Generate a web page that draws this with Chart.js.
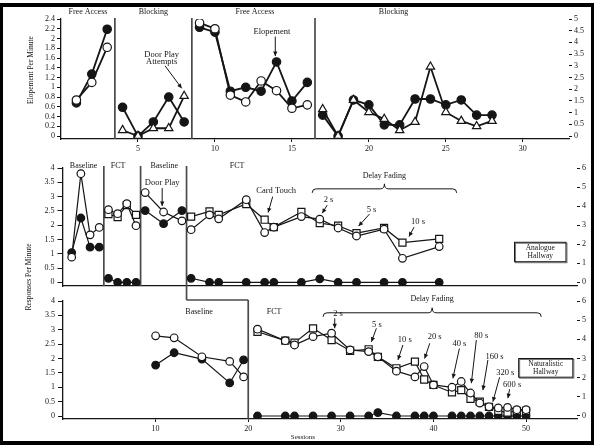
<!DOCTYPE html>
<html>
<head>
<meta charset="utf-8">
<script src="https://cdn.jsdelivr.net/npm/chart.js@4.4.1/dist/chart.umd.min.js"></script>
<style>
  html, body { margin: 0; padding: 0; background: #fff; }
  #wrap { position: relative; width: 594px; height: 447px; overflow: hidden; }
  #frame { position: absolute; left: 0; top: 3px; width: 588px; height: 434px;
           border-style: solid; border-color: #000; border-width: 4px 3px 4px 3px; }
  canvas { position: absolute; left: 0; }
  #c1 { top: 0; } #c2 { top: 150px; } #c3 { top: 290px; }
</style>
</head>
<body>
<div id="wrap">
  <div id="frame"></div>
  <canvas id="c1" width="594" height="160"></canvas>
  <canvas id="c2" width="594" height="160"></canvas>
  <canvas id="c3" width="594" height="157"></canvas>
</div>
<script>
// ── top panel: elopement ──
const P1_SESSIONS  = [1, 2, 3, 4, 5, 6, 7, 8, 9, 10, 11, 12, 13, 14, 15, 16, 17, 18, 19, 20, 21, 22, 23, 24, 25, 26, 27, 28];
const P1_ELOPE     = [0.68, 1.27, 2.19, 0.59, 0, 0.29, 0.8, 0.29, 2.23, 2.13, 0.92, 1.0, 0.92, 1.52, 0.72, 1.1,
                      0.43, 0, 0.74, 0.64, 0.23, 0.23, 0.76, 0.76, 0.64, 0.74, 0.43, 0.43];
const P1_DOOR_PLAY = [0.74, 1.1, 1.82, null, null, null, null, null, 2.32, 2.2, 0.84, 0.7, 1.13, 0.93, 0.57, 0.64,
                      null, null, null, null, null, null, null, null, null, null, null, null];
const P1_ATTEMPTS  = [null, null, null, 0.12, 0, 0.16, 0.16, 0.82, null, null, null, null, null, null, null, null,
                      0.55, 0, 0.74, 0.49, 0.35, 0.12, 0.29, 1.42, 0.49, 0.31, 0.2, 0.31];
const P1_PHASES    = [3.5, 8.5, 16.5];
const P1_NAMES     = ['Free Access', 'Blocking', 'Free Access', 'Blocking'];
const P1_NAMES_AT  = [1.75, 6, 12.6, 21.6];
const P1_LEFT_TICKS  = [0, 0.2, 0.4, 0.6, 0.8, 1, 1.2, 1.4, 1.6, 1.8, 2, 2.2, 2.4];
const P1_RIGHT_TICKS = [0, 0.5, 1, 1.5, 2, 2.5, 3, 3.5, 4, 4.5, 5];
const P1_X_TICKS     = [5, 10, 15, 20, 25, 30];

// ── middle panel: analogue hallway ──
const P2_SESSIONS = [1, 2, 3, 4, 5, 6, 7, 8, 9, 11, 13, 14, 16, 17, 20, 22, 23, 26, 28, 30, 32, 35, 37, 41];
const P2_FILLED   = [1.04, 2.25, 1.23, 1.23, 0.14, 0, 0, 0, 2.51, 2.05, 2.51, 0.14, 0, 0, 0, 0, 0, 0, 0.12, 0, 0, 0, 0, 0];
const P2_OPEN     = [0.88, 3.8, 1.66, 1.92, 2.54, 2.4, 2.75, 1.98, 3.14, 2.46, 2.15, 1.84, 2.36, 2.22, 2.89, 1.74, 1.93,
                     2.3, 2.21, 1.9, 1.62, 1.86, 0.84, 1.25];
const P2_SQUARE   = [null, null, null, null, 2.39, 2.28, 2.7, 2.36, null, null, null, 2.3, 2.48, 2.36, 2.74, 2.19, 1.93,
                     2.46, 2.07, 1.98, 1.72, 1.9, 1.39, 1.52];
const P2_PHASES   = [4.5, 8.5, 13.5];
const P2_NAMES    = ['Baseline', 'FCT', 'Baseline', 'FCT'];
const P2_NAMES_AT = [2.3, 6.05, 11.07, 19.0];

// ── bottom panel: naturalistic hallway ──
const P3_SESSIONS = [10, 12, 15, 18, 19.5, 21, 24, 25, 27, 29, 31, 33, 34, 36, 38, 39, 40, 42, 43, 44, 45, 46, 47, 48, 49, 50];
const P3_FILLED   = [1.77, 2.2, 1.98, 1.15, 1.95, 0, 0, 0, 0, 0, 0, 0, 0.12, 0, 0, 0, 0, 0, 0, 0, 0, 0, 0, 0, 0, 0];
const P3_OPEN     = [2.79, 2.72, 2.06, 1.9, 1.36, 3.02, 2.62, 2.47, 2.76, 2.88, 2.3, 2.24, 2.06, 1.56, 1.36, 1.72, 1.08,
                     1.0, 1.2, 0.8, 0.45, 0.32, 0.28, 0.3, 0.22, 0.22];
const P3_SQUARE   = [null, null, null, null, null, 2.93, 2.62, 2.55, 3.05, 2.64, 2.27, 2.32, 2.06, 1.66, 1.89, 1.27, 1.08,
                     0.82, 0.9, 0.6, 0.5, 0.32, 0.18, 0.12, 0.18, 0.18];
const P3_PHASES   = [20];
const P3_NAMES    = ['Baseline', 'FCT'];
const P3_NAMES_AT = [14.7, 22.8];

const RESP_LEFT_TICKS  = [0, 0.5, 1, 1.5, 2, 2.5, 3, 3.5, 4];
const RESP_RIGHT_TICKS = [0, 1, 2, 3, 4, 5, 6];
const P3_X_TICKS       = [10, 20, 30, 40, 50];

// annotations, in session / value units of each panel
const P1_NOTES = [
  { text: ['Door Play', 'Attempts'], at: [6.54, 1.59], arrow: [6.76, 1.44, 7.84, 0.98] },
  { text: ['Elopement'], at: [13.7, 2.13], arrow: [13.92, 2.04, 13.92, 1.64] }
];
const P2_NOTES = [
  { text: ['Door Play'], at: [10.85, 3.47], arrow: [10.85, 3.3, 10.85, 2.67] },
  { text: ['Card Touch'], at: [23.26, 3.2], arrow: [22.88, 3.0, 22.38, 2.44] },
  { text: ['2 s'], at: [28.95, 2.88], arrow: [28.81, 2.7, 28.27, 2.42] },
  { text: ['5 s'], at: [33.64, 2.53], arrow: [33.42, 2.39, 32.23, 1.97] },
  { text: ['10 s'], at: [38.7, 2.12], arrow: [38.26, 1.93, 37.71, 1.6] }
];
const P3_NOTES = [
  { text: ['2 s'], at: [29.7, 3.55], arrow: [29.34, 3.4, 29.34, 3.05] },
  { text: ['5 s'], at: [33.9, 3.17], arrow: [33.84, 3.05, 33.3, 2.58] },
  { text: ['10 s'], at: [36.9, 2.64], arrow: [36.7, 2.47, 36.17, 1.95] },
  { text: ['20 s'], at: [40.13, 2.76], arrow: [39.6, 2.53, 39.05, 2.0] },
  { text: ['40 s'], at: [42.8, 2.53], arrow: [42.8, 2.35, 42.1, 1.31] },
  { text: ['80 s'], at: [45.17, 2.79], arrow: [44.63, 2.64, 44.09, 1.14] },
  { text: ['160 s'], at: [46.6, 2.06], arrow: [45.88, 1.95, 45.34, 0.9] },
  { text: ['320 s'], at: [47.76, 1.49], arrow: [47.14, 1.35, 46.42, 0.5] },
  { text: ['600 s'], at: [48.5, 1.1], arrow: [48.22, 0.93, 48.04, 0.62] }
];

const FONT = '"Liberation Serif", "DejaVu Serif", serif';
const INK = '#151515';
Chart.defaults.font.family = FONT;
Chart.defaults.color = INK;

// break the line wherever a phase line sits between two sessions
function pts(sessions, values, breaks) {
  const out = [];
  sessions.forEach((s, i) => {
    const prev = sessions[i - 1];
    if (i > 0 && breaks.some(b => prev < b && b < s)) out.push({ x: (prev + s) / 2, y: null });
    out.push({ x: s, y: values[i] });
  });
  return out;
}

function series(data, kind, r, lw) {
  return {
    data, borderColor: INK, borderWidth: lw, tension: 0, spanGaps: false,
    pointRadius: r, pointHoverRadius: r, pointBorderColor: INK, pointBorderWidth: 1.2,
    pointBackgroundColor: kind === 'filled' ? INK : '#fff',
    pointStyle: kind === 'square' ? 'rect' : kind === 'triangle' ? 'triangle' : 'circle'
  };
}

function yScale(pos, min, max, ticks, width, tickLen, pad, border) {
  return {
    type: 'linear', position: pos, min, max,
    afterBuildTicks: ax => { ax.ticks = ticks.map(v => ({ value: v })); },
    afterFit: ax => { ax.width = width; },
    grid: { drawOnChartArea: false, tickLength: tickLen, color: INK, lineWidth: 1 },
    border: { display: border, color: INK, width: 1.3 },
    ticks: { autoSkip: false, padding: pad, font: { size: 8 }, callback: v => String(v) }
  };
}

function xScale(max, ticks, height, show) {
  return {
    type: 'linear', min: 0, max,
    afterBuildTicks: ax => { ax.ticks = ticks.map(v => ({ value: v })); },
    afterFit: ax => { ax.height = height; },
    grid: { drawOnChartArea: false, drawTicks: show, tickLength: 3, color: INK },
    border: { display: true, color: INK, width: 1.3 },
    ticks: { display: show, autoSkip: false, maxRotation: 0, padding: 2, font: { size: 8 }, callback: v => String(v) }
  };
}

function seg(ctx, x1, y1, x2, y2) {
  ctx.beginPath(); ctx.moveTo(x1, y1); ctx.lineTo(x2, y2); ctx.stroke();
}

function arrow(ctx, x1, y1, x2, y2) {
  seg(ctx, x1, y1, x2, y2);
  const a = Math.atan2(y2 - y1, x2 - x1), h = 5;
  ctx.beginPath();
  ctx.moveTo(x2, y2);
  ctx.lineTo(x2 - h * Math.cos(a - 0.45), y2 - h * Math.sin(a - 0.45));
  ctx.lineTo(x2 - h * Math.cos(a + 0.45), y2 - h * Math.sin(a + 0.45));
  ctx.closePath(); ctx.fill();
}

function brace(ctx, x1, x2, y, h) {
  const xc = (x1 + x2) / 2;
  ctx.beginPath();
  ctx.moveTo(x1, y + h);
  ctx.quadraticCurveTo(x1, y, x1 + h, y);
  ctx.lineTo(xc - h, y);
  ctx.quadraticCurveTo(xc, y, xc, y - h - 1);
  ctx.quadraticCurveTo(xc, y, xc + h, y);
  ctx.lineTo(x2 - h, y);
  ctx.quadraticCurveTo(x2, y, x2, y + h);
  ctx.stroke();
}

// phase lines, phase names, arrows, braces and boxes for one panel
function deco(o) {
  return {
    id: 'deco',
    beforeDatasetsDraw(chart) {
      const { ctx, chartArea: a, scales: { x } } = chart;
      ctx.save();
      ctx.strokeStyle = '#4a4a4a'; ctx.lineWidth = 1.7;
      o.phases.forEach((s, i) => {
        const px = x.getPixelForValue(s);
        seg(ctx, px, a.top + o.lineTop, px, a.bottom + ((o.lineDrop || [])[i] || 0));
      });
      if (o.step) o.step(chart);
      ctx.restore();
    },
    afterDraw(chart) {
      const { ctx, chartArea: a, scales: { x, y } } = chart;
      ctx.save();
      ctx.fillStyle = INK; ctx.strokeStyle = INK; ctx.lineWidth = 1;
      ctx.textAlign = 'center'; ctx.textBaseline = 'middle';
      ctx.font = '8px ' + FONT;
      o.names.forEach((n, i) => ctx.fillText(n, x.getPixelForValue(o.namesAt[i]), a.top + o.nameDy));
      ctx.font = '8.5px ' + FONT;
      o.notes.forEach(n => {
        const cx = x.getPixelForValue(n.at[0]), cy = y.getPixelForValue(n.at[1]);
        n.text.forEach((t, k) => ctx.fillText(t, cx, cy + (k - (n.text.length - 1) / 2) * 7.5));
        const [x1, y1, x2, y2] = n.arrow;
        arrow(ctx, x.getPixelForValue(x1), y.getPixelForValue(y1), x.getPixelForValue(x2), y.getPixelForValue(y2));
      });
      if (o.brace) {
        const b = o.brace, by = y.getPixelForValue(b.y);
        brace(ctx, x.getPixelForValue(b.from), x.getPixelForValue(b.to), by, 4);
        ctx.font = '8px ' + FONT;
        ctx.fillText('Delay Fading', x.getPixelForValue((b.from + b.to) / 2), y.getPixelForValue(b.labelY));
      }
      if (o.box) {
        const b = o.box;
        const bx1 = x.getPixelForValue(b.x1), bx2 = x.getPixelForValue(b.x2);
        const by1 = y.getPixelForValue(b.y1), by2 = y.getPixelForValue(b.y2);
        ctx.strokeStyle = '#777'; ctx.strokeRect(bx1 + 1, by1 + 1, bx2 - bx1, by2 - by1);
        ctx.strokeStyle = INK; ctx.strokeRect(bx1, by1, bx2 - bx1, by2 - by1);
        ctx.font = '7.5px ' + FONT;
        b.lines.forEach((t, k) => ctx.fillText(t, (bx1 + bx2) / 2, (by1 + by2) / 2 + (k - 0.5) * 7.5));
      }
      if (o.extra) o.extra(chart);
      ctx.restore();
    }
  };
}

function baseOptions(top, scales) {
  return {
    responsive: false, animation: false, devicePixelRatio: 1,
    layout: { padding: { top, left: 0, right: 0, bottom: 0 } },
    plugins: { legend: { display: false }, tooltip: { enabled: false } },
    scales
  };
}

function yTitle(ctx, text, x, y) {
  ctx.save();
  ctx.translate(x, y); ctx.rotate(-Math.PI / 2);
  ctx.font = '7.5px ' + FONT; ctx.fillStyle = INK;
  ctx.textAlign = 'center'; ctx.textBaseline = 'middle';
  ctx.fillText(text, 0, 0);
  ctx.restore();
}

// ── top panel ──
const chart1 = new Chart(document.getElementById('c1'), {
  type: 'line',
  data: { datasets: [
    series(pts(P1_SESSIONS, P1_DOOR_PLAY, P1_PHASES), 'open', 4.2, 1.8),
    series(pts(P1_SESSIONS, P1_ATTEMPTS, P1_PHASES), 'triangle', 4.8, 1.8),
    series(pts(P1_SESSIONS, P1_ELOPE, P1_PHASES), 'filled', 4.2, 1.8)
  ] },
  options: baseOptions(19, {
    x: xScale(33, P1_X_TICKS, 21, true),
    y: yScale('left', -0.06, 2.4, P1_LEFT_TICKS, 61, 4, 2, true),
    y2: yScale('right', -0.128, 5, P1_RIGHT_TICKS, 25, 3, 2, false)
  }),
  plugins: [deco({
    phases: P1_PHASES, lineTop: -1, names: P1_NAMES, namesAt: P1_NAMES_AT, nameDy: -7,
    notes: P1_NOTES,
    extra: chart => yTitle(chart.ctx, 'Elopement Per Minute', 31, 70)
  })]
});

// ── middle panel ──
const chart2 = new Chart(document.getElementById('c2'), {
  type: 'line',
  data: { datasets: [
    series(pts(P2_SESSIONS, P2_OPEN, P2_PHASES), 'open', 3.8, 1.2),
    series(pts(P2_SESSIONS, P2_SQUARE, P2_PHASES), 'square', 5, 1.2),
    series(pts(P2_SESSIONS, P2_FILLED, P2_PHASES), 'filled', 3.8, 1.2)
  ] },
  options: baseOptions(18, {
    x: xScale(56, P3_X_TICKS, 24, false),
    y: yScale('left', -0.13, 4, RESP_LEFT_TICKS, 62.5, 5, 3, true),
    y2: yScale('right', -0.194, 6, RESP_RIGHT_TICKS, 17, 3, 2, false)
  }),
  plugins: [deco({
    phases: P2_PHASES, lineTop: -2, lineDrop: [0, 0, 14],
    names: P2_NAMES, namesAt: P2_NAMES_AT, nameDy: -2,
    notes: P2_NOTES,
    brace: { from: 27.18, to: 42.9, y: 3.27, labelY: 3.72 },
    box: { x1: 49.2, x2: 54.8, y1: 1.4, y2: 0.72, lines: ['Analogue', 'Hallway'] },
    extra: chart => yTitle(chart.ctx, 'Responses Per Minute', 29, 127)
  })]
});

// ── bottom panel ──
const chart3 = new Chart(document.getElementById('c3'), {
  type: 'line',
  data: { datasets: [
    series(pts(P3_SESSIONS, P3_OPEN, P3_PHASES), 'open', 3.8, 1.2),
    series(pts(P3_SESSIONS, P3_SQUARE, P3_PHASES), 'square', 5, 1.2),
    series(pts(P3_SESSIONS, P3_FILLED, P3_PHASES), 'filled', 3.8, 1.2)
  ] },
  options: baseOptions(11, {
    x: xScale(55.5, P3_X_TICKS, 28, true),
    y: yScale('left', -0.104, 4, RESP_LEFT_TICKS, 63, 5, 3, true),
    y2: yScale('right', -0.157, 6, RESP_RIGHT_TICKS, 17, 3, 2, false)
  }),
  plugins: [deco({
    phases: P3_PHASES, lineTop: -1, names: P3_NAMES, namesAt: P3_NAMES_AT, nameDy: 11,
    notes: P3_NOTES,
    brace: { from: 28.08, to: 51.64, y: 3.59, labelY: 4.09 },
    box: { x1: 49.2, x2: 55.05, y1: 2.0, y2: 1.35, lines: ['Naturalistic', 'Hallway'] },
    // the multiple-baseline step joining the middle panel's last phase line
    step: chart => {
      const { ctx, chartArea: a, scales: { x } } = chart;
      const fromX = chart2.scales.x.getPixelForValue(P2_PHASES[2]);
      seg(ctx, fromX, a.top - 1, x.getPixelForValue(P3_PHASES[0]), a.top - 1);
    },
    extra: chart => {
      const { ctx, chartArea: a, scales: { x } } = chart;
      ctx.font = '7px ' + FONT;
      ctx.fillText('Sessions', x.getPixelForValue(25.9), a.bottom + 18);
    }
  })]
});
</script>
</body>
</html>
